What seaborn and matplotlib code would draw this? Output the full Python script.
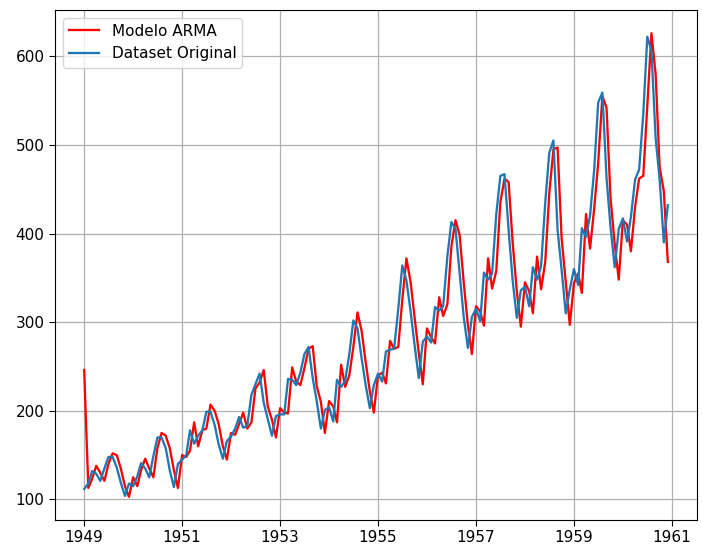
import matplotlib
matplotlib.use("Agg")
import matplotlib.pyplot as plt
import matplotlib.dates as mdates
import seaborn as sns
import pandas as pd
import numpy as np

dates = pd.date_range("1949-01-01", "1960-12-01", freq="MS")

original = [
    112, 118, 132, 129, 121, 135, 148, 148, 136, 119, 104, 118,
    115, 126, 141, 135, 125, 149, 170, 170, 158, 133, 114, 140,
    145, 150, 178, 163, 172, 178, 199, 199, 184, 162, 146, 166,
    171, 180, 193, 181, 183, 218, 230, 242, 209, 191, 172, 194,
    196, 196, 236, 235, 229, 243, 264, 272, 237, 211, 180, 201,
    204, 188, 235, 227, 234, 264, 302, 293, 259, 229, 203, 229,
    242, 233, 267, 269, 270, 315, 364, 347, 312, 274, 237, 278,
    284, 277, 317, 313, 318, 374, 413, 405, 355, 306, 271, 306,
    315, 301, 356, 348, 355, 422, 465, 467, 404, 347, 305, 336,
    340, 318, 362, 348, 363, 435, 491, 505, 404, 359, 310, 337,
    360, 342, 406, 396, 420, 472, 548, 559, 463, 407, 362, 405,
    417, 391, 419, 461, 472, 535, 622, 606, 508, 461, 390, 432,
]

arma = [
    246, 113, 123, 138, 130, 121, 140, 152, 150, 135, 115, 103,
    125, 115, 133, 146, 135, 125, 158, 175, 172, 158, 133, 113,
    150, 148, 155, 187, 160, 178, 180, 207, 200, 185, 160, 145,
    175, 173, 185, 198, 180, 187, 225, 232, 246, 205, 190, 170,
    203, 198, 197, 249, 233, 229, 248, 270, 273, 228, 210, 175,
    211, 205, 187, 252, 227, 240, 272, 311, 290, 255, 222, 198,
    240, 243, 231, 279, 270, 272, 325, 372, 345, 305, 265, 230,
    293, 283, 276, 328, 307, 320, 385, 415, 398, 345, 297, 264,
    318, 312, 296, 372, 338, 358, 435, 462, 458, 390, 335, 295,
    345, 335, 310, 374, 337, 368, 445, 495, 497, 395, 345, 297,
    344, 355, 333, 422, 383, 428, 480, 555, 542, 440, 388, 348,
    415, 410, 380, 430, 462, 465, 545, 626, 580, 475, 448, 368,
]

tick_years = [1949, 1951, 1953, 1955, 1957, 1959, 1961]

df = pd.DataFrame({"date": dates, "original": original, "arma": arma})

plt.rcParams["font.size"] = 11

fig, ax = plt.subplots(figsize=(7.02, 5.47), dpi=100)
fig.subplots_adjust(left=55/702, right=697/702, top=1-10/547, bottom=1-520/547)

sns.lineplot(data=df, x="date", y="arma", ax=ax, color="red", label="Modelo ARMA", linewidth=1.65)
sns.lineplot(data=df, x="date", y="original", ax=ax, color="#1f77b4", label="Dataset Original", linewidth=1.65)

ax.set_xticks([mdates.date2num(pd.Timestamp(f"{y}-01-01")) for y in tick_years])
ax.set_xticklabels([str(y) for y in tick_years])
ax.set_xlabel("")
ax.set_ylabel("")
ax.tick_params(length=4)
ax.grid(True, color="#b0b0b0", linewidth=0.9)
ax.set_axisbelow(True)
ax.legend(loc="upper left")

fig.savefig("out.png", dpi=100)
